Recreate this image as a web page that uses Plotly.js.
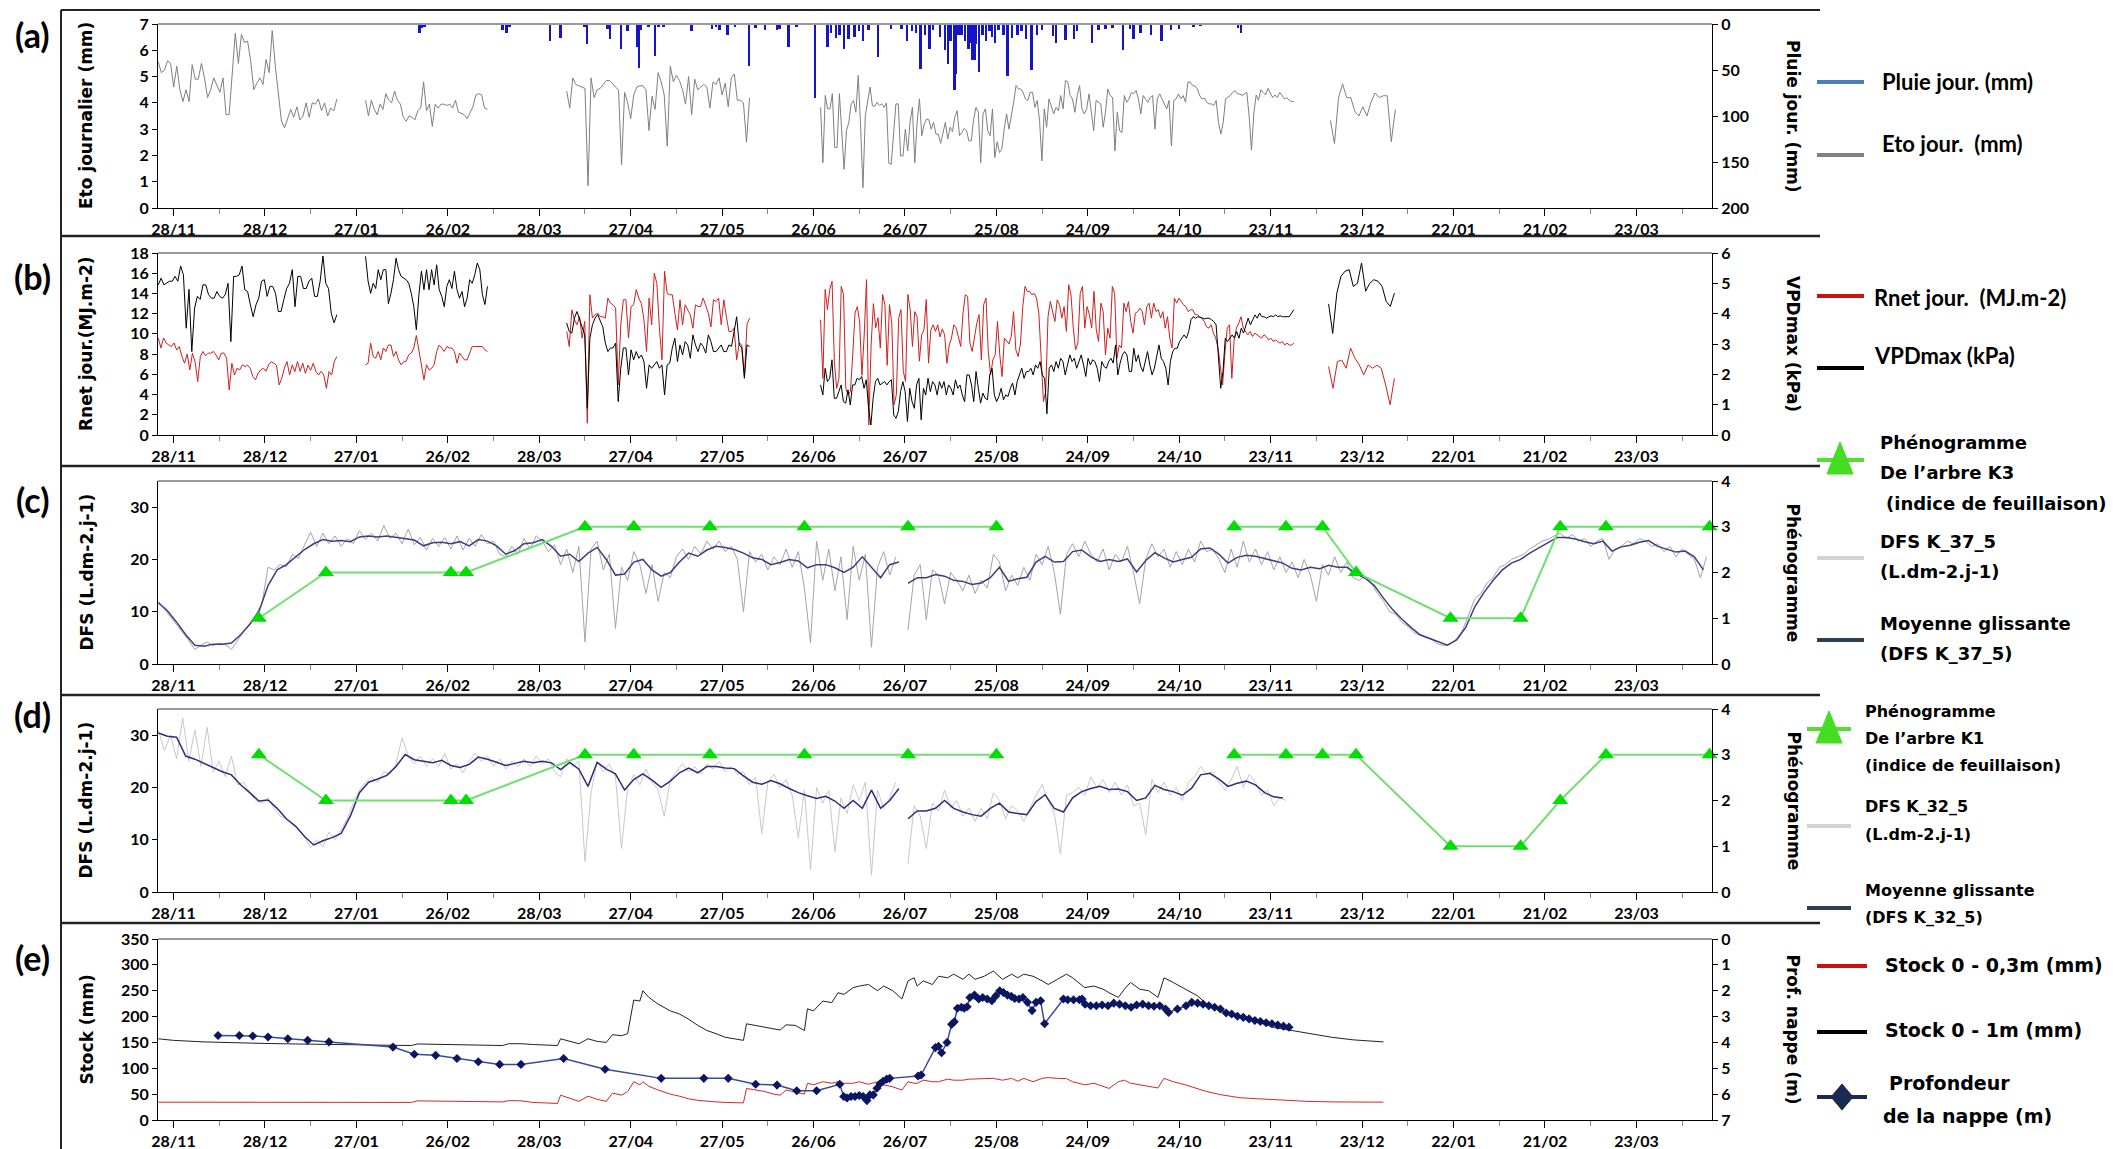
<!DOCTYPE html>
<html lang="fr">
<head>
<meta charset="utf-8">
<title>Bilan hydrique</title>
<script src="https://cdn.plot.ly/plotly-3.0.1.min.js"></script>
<style>
html,body{margin:0;padding:0;background:#fff;overflow:hidden;}
#chart{width:2113px;height:1149px;}
</style>
</head>
<body>
<div id="chart"></div>
<script>
// ================= DATA =================
// day offsets counted from 28/11 (first tick)
const xTickDays = [0,30,60,90,120,150,180,210,240,270,300,330,360,390,420,450,480];
const xTickLabels = ['28/11','28/12','27/01','26/02','28/03','27/04','27/05','26/06','26/07','25/08','24/09','24/10','23/11','23/12','22/01','21/02','23/03'];
const xMinorDays = [15,45,75,105,135,165,195,225,255,285,315,345,375,405,435,465,495];

// (a) Eto journalier (mm) - segments
const etoSeg1 = [5.55,5.15,5.25,5.6,5.5,4.6,5.4,4.5,4.05,4.5,4.05,5.45,4.9,4.9,5.5,4.95,4.2,4.5,4.95,4.65,4.4,4.95,3.55,3.55,5.2,6.65,5.5,6.6,6.3,6.35,5.6,4.5,4.75,4.95,4.7,5.65,5.15,6.75,5.4,4.3,3.3,3.05,3.4,3.75,3.45,3.85,3.35,3.5,4.0,3.45,4.0,3.95,4.15,3.7,4.0,3.5,3.8,3.7,4.15];
const etoSeg2 = [4.1,3.5,4.1,3.75,3.55,3.95,3.75,4.35,4.1,4.0,4.45,4.1,3.95,3.45,3.3,3.5,3.45,3.35,3.7,3.8,4.8,3.7,3.95,3.1,3.95,3.8,3.95,3.95,3.9,3.95,3.8,4.1,3.65,3.6,3.55,3.4,3.65,3.85,4.3,4.35,4.3,3.8,3.75];
const etoSeg3 = [4.45,3.8,4.95,4.7,4.65,4.6,4.55,0.85,4.95,4.2,4.5,4.55,4.7,4.85,4.85,4.75,4.6,4.5,1.65,4.4,4.0,3.4,4.3,4.6,4.65,4.65,4.5,2.95,4.25,3.75,5.15,4.8,4.3,2.35,5.4,4.8,5.05,4.85,4.5,3.95,5.0,3.55,4.9,4.5,4.6,4.7,4.6,3.8,4.8,4.7,4.95,4.3,4.75,3.85,4.95,5.1,4.1,4.1,4.0,2.5,4.2];
const etoSeg4 = [3.83,1.72,4.28,3.77,3.77,4.35,2.3,2.3,4.35,2.87,1.47,2.94,3.26,3.96,4.09,3.64,5.04,3.13,0.77,3.51,4.09,4.6,3.9,3.87,4.02,3.9,3.96,3.83,4.0,1.7,1.66,2.87,3.96,3.96,1.98,1.98,3.0,2.17,3.26,3.83,1.72,3.26,4.15,2.75,3.19,3.38,3.36,3.0,3.26,2.81,2.81,2.46,2.87,3.26,2.62,3.07,2.91,3.45,3.7,2.75,2.87,3.03,2.94,2.55,2.55,3.38,3.83,3.64,1.72,3.58,3.77,2.94,2.75,3.77,1.92,2.52,2.11,2.24,3.0,3.58,3.0,3.45,4.02,4.66,4.53,4.53,4.4,4.15,4.09,4.4,4.4,3.83,4.09,3.32,1.79,3.77,3.07,4.15,3.9,3.58,3.83,3.7,4.28,3.77,4.85,4.79,4.28,4.15,3.64,4.28,4.66,3.77,3.58,3.77,4.34,3.58,2.94,4.09,4.02,3.96,3.07,3.64,4.53,4.28,4.21,2.17,3.64,2.94,2.87,4.28,4.02,4.15,4.4,4.34,4.47,4.15,3.58,4.28,4.15,4.02,4.21,4.28,3.0,4.15,4.34,4.15,4.02,3.77,4.09,2.36,4.09,4.15,4.34,4.15,4.28,4.02,4.79,4.79,4.66,4.64,4.53,4.28,4.15,4.18,4.02,3.96,3.96,3.9,4.09,3.26,2.81,3.26,4.15,4.21,4.28,4.4,4.47,4.34,4.34,4.28,4.34,4.4,3.5,2.2,3.6,4.3,4.1,4.5,4.4,4.3,4.55,4.35,4.2,4.3,4.2,4.4,4.25,4.15,4.2,4.1,4.05,4.05];
const etoSeg5 = [3.33,2.45,4.2,4.72,4.2,4.2,3.68,3.5,3.85,3.5,4.03,4.38,4.2,4.27,4.27,2.52,3.75];

// (a) Pluie journaliere (mm)
const rainDays = [80.7,81.4,82.4,108,109.2,110.2,123.6,127,134.8,135.7,142.4,143.2,146.9,149,152.1,152.8,153.4,155.8,158,159.1,160.8,170,176.7,177.9,179.2,181.7,184.2,188.9,191,194,198,198.8,201.8,204.4,210.5,214.6,215.8,217.4,218.5,219.9,221.5,223.4,225,226.2,228,231.2,235.4,238.8,240.7,242.3,243.7,245.1,246.5,248.1,249.2,251.5,253.2,254.1,255,256.2,256.8,257.5,258.5,259.6,260.8,261.5,262.2,262.9,263.3,264.2,265.4,266.5,267.7,268.6,269.5,270.7,272.3,273.7,275.1,276.9,278.3,279.7,281.5,283.4,285,288.5,289.6,292.6,295.4,296.5,301.4,303.5,305.8,308.1,311.5,313.8,315,317.3,320.8,324.2,327.2,330,334.6,336.9,349.2,350.3];
const rainMm = [10,4,3,7,10,3,19,15,3,22,5,16,27,8,25,48,6,3,35,3,3,8,5,3,6,12,3,46,4,7,7,5,25,3,80,25,10,15,12,27,16,14,8,19,6,36,5,5,19,8,10,49,12,27,6,14,28,44,18,72,54,12,12,19,27,21,39,39,22,52,12,19,8,14,21,6,12,56,15,12,8,16,50,12,6,13,21,17,16,8,21,6,5,4,28,5,16,10,12,19,6,5,3,2,4,10];

// (b) Rnet journalier (MJ.m-2)
const rnetSeg1 = [9.58,8.6,9.6,9.1,8.9,8.75,9.1,8.4,8.75,7.76,7.1,8.0,6.44,8.1,7.26,5.28,7.76,8.26,7.83,8.1,8.1,8.26,7.9,7.43,8.1,8.1,7.6,4.46,7.1,5.94,6.6,6.44,6.94,6.77,6.9,6.6,5.78,5.45,6.1,6.44,6.6,6.3,6.94,7.26,7.1,6.9,4.95,5.61,6.6,7.26,5.94,6.94,6.27,7.26,6.3,7.1,6.1,6.9,6.4,7.1,6.3,5.94,6.3,5.94,4.62,6.27,5.94,7.26,7.76];
const rnetSeg2 = [6.94,7.1,9.1,7.76,7.6,8.26,7.43,8.6,8.26,8.9,8.9,7.76,8.26,7.43,6.94,7.26,7.3,7.93,8.1,8.6,9.84,8.26,6.94,5.45,6.94,6.44,6.6,6.94,8.26,8.9,8.6,8.26,8.75,8.6,8.6,8.26,7.1,8.1,7.76,7.43,7.43,8.1,8.75,8.75,8.75,8.75,8.75,8.42,8.26];
const rnetSeg3 = [10.24,8.75,12.38,11.4,10.9,11.7,9.58,11.23,1.16,13.87,11.56,11.9,12.05,11.7,11.7,11.56,13.54,13.04,12.88,12.55,4.95,10.9,13.37,13.37,9.58,12.7,12.88,14.37,13.54,13.0,11.4,8.26,13.54,10.9,16.0,15.0,10.57,7.43,16.2,14.0,13.87,13.87,12.05,10.4,13.37,10.9,12.88,12.38,11.9,10.57,12.88,12.7,12.7,13.54,12.7,12.05,10.7,13.37,13.2,13.54,10.9,13.37,11.7,10.24,10.24,10.57,7.43,9.1,8.9,5.78,10.9,11.56];
const rnetSeg4 = [11.4,5.6,14.4,12.4,14.4,15.2,7.3,4.6,5.6,14.7,13.9,4.6,3.96,4.3,7.9,12.06,12.7,11.2,5.9,9.9,15.36,1.0,8.9,13.0,10.6,11.6,8.6,13.9,12.9,6.9,12.9,11.06,3.0,4.0,11.56,12.4,6.3,5.3,13.9,12.4,8.75,12.2,11.7,7.3,9.9,10.4,13.4,7.1,10.4,10.9,10.24,10.9,9.7,10.5,9.9,7.1,8.9,9.6,10.9,10.6,9.7,8.75,12.05,13.87,13.7,9.1,8.26,9.6,11.06,11.9,7.43,12.9,13.54,8.26,5.94,7.43,7.93,11.23,7.93,5.78,9.58,9.3,9.0,9.74,12.2,8.42,7.76,9.0,12.7,14.7,14.2,14.2,13.87,14.0,13.54,12.05,7.93,3.3,4.3,11.7,13.2,12.2,11.23,13.37,12.9,11.56,12.7,10.24,14.86,13.87,10.57,8.42,9.1,14.0,14.7,10.57,12.7,11.9,10.57,14.2,10.4,9.25,13.04,12.2,7.93,10.57,9.58,14.7,14.0,7.6,8.9,8.6,13.04,12.2,13.2,11.23,10.07,12.05,12.2,12.55,12.2,10.9,12.7,13.04,11.56,13.04,12.2,12.4,11.56,12.2,10.57,11.7,9.58,8.6,13.54,13.04,13.54,13.2,12.88,12.7,12.2,12.38,12.38,11.9,11.9,11.7,11.56,11.23,10.7,10.57,10.9,10.07,9.58,8.6,6.6,4.95,8.1,10.57,10.9,5.6,9.4,10.57,11.06,11.7,10.57,10.24,9.9,10.24,9.74,10.07,9.9,9.74,9.58,9.9,9.74,9.4,9.58,9.25,9.4,9.25,9.08,9.25,8.9,9.08,8.9,8.9,9.08];
const rnetSeg5 = [6.77,4.62,7.26,7.4,6.6,8.6,7.6,6.93,5.94,6.93,6.6,6.9,6.6,4.95,3.0,5.6];

// (b) VPDmax (kPa)
const vpdSeg1 = [4.95,5.17,4.95,5.0,5.07,5.07,5.23,5.07,5.57,5.28,3.52,4.8,2.75,4.18,4.57,4.47,4.95,4.95,4.63,4.51,4.51,4.73,4.57,4.51,4.63,5.0,3.08,5.23,5.23,5.28,5.57,4.79,4.73,4.29,3.9,4.29,4.51,5.07,5.12,4.57,4.9,4.9,4.67,4.07,4.07,4.47,4.83,5.0,5.45,4.23,5.23,5.23,4.83,4.83,5.07,5.17,4.57,4.57,5.07,5.9,5.0,4.83,4.0,3.7,3.97];
const vpdSeg2 = [5.89,5.07,4.67,5.0,4.83,5.45,5.12,5.45,5.45,4.33,4.67,5.12,5.83,5.45,5.23,5.17,5.12,5.0,4.67,4.23,3.47,4.62,5.4,4.79,5.45,4.79,5.45,4.95,5.61,4.79,4.57,4.23,4.9,5.12,4.83,5.4,4.79,4.51,4.73,4.23,4.51,5.12,5.0,5.28,5.67,5.45,4.63,4.3,4.9];
const vpdSeg3 = [3.69,3.41,3.36,3.85,4.07,3.8,3.52,3.3,0.88,3.19,3.63,3.85,3.97,3.74,3.57,3.03,2.75,2.87,2.87,3.03,1.1,2.2,2.87,2.87,1.98,2.81,2.48,2.75,2.53,2.64,2.42,1.54,2.31,2.2,2.31,2.42,2.2,2.31,1.32,2.31,2.37,2.87,3.19,2.42,2.97,2.64,3.08,2.97,2.53,3.3,2.97,2.75,3.03,2.92,2.7,3.3,3.08,2.75,2.75,2.87,2.97,2.75,2.75,2.97,2.92,3.41,3.9,2.97,2.87,1.87,2.97,2.92];
const vpdSeg4 = [1.65,1.32,2.2,1.76,1.87,2.48,1.21,1.21,1.43,1.65,1.1,1.05,1.49,0.99,1.65,1.65,1.87,1.82,1.93,1.54,1.82,0.88,0.33,1.21,1.76,1.87,1.65,1.71,1.76,1.65,1.76,1.82,0.66,0.55,0.77,1.43,1.76,1.43,0.44,1.54,1.1,0.88,1.65,1.87,0.5,1.54,1.32,1.87,1.43,1.76,1.65,1.32,1.76,1.54,1.76,1.32,1.65,1.54,1.32,1.82,1.54,1.65,1.32,1.1,1.98,1.98,1.65,1.1,2.09,1.54,1.05,1.38,1.21,1.16,1.98,2.2,1.32,1.1,1.27,1.54,1.16,1.32,1.27,1.54,1.71,1.32,1.76,1.98,2.2,1.87,2.09,2.09,2.2,1.98,2.31,2.2,2.42,1.98,1.87,0.7,2.2,2.31,2.09,2.42,2.2,2.53,2.42,1.98,2.31,2.64,2.42,2.53,2.2,2.42,2.64,2.31,1.93,2.53,2.31,2.48,2.42,2.2,1.76,2.42,2.26,2.2,2.42,2.53,2.37,2.97,1.98,2.37,2.64,2.75,2.64,2.09,2.09,2.86,2.42,2.64,2.26,2.09,2.48,2.75,2.31,1.98,2.2,2.64,2.97,2.53,2.42,2.2,1.65,2.42,2.75,2.86,2.86,3.08,3.19,3.3,3.19,3.41,3.8,3.9,3.85,3.9,3.88,3.85,3.83,3.85,3.85,3.8,3.74,3.63,2.64,1.54,2.09,3.19,3.08,3.19,3.3,3.19,3.41,3.19,3.52,3.36,3.63,3.85,3.63,3.8,3.96,3.85,4.02,3.9,3.9,3.85,3.9,3.93,3.9,3.96,3.9,3.93,3.9,3.9,3.92,3.9,4.02,4.13];
const vpdSeg5 = [4.32,3.35,4.68,5.23,5.4,5.45,4.9,5.0,5.67,4.74,5.0,5.12,5.07,4.9,4.4,4.24,4.68];

// (c) DFS K_37_5 (L.dm-2.j-1): raw (every 2 days) and moving average (every 3 days)
const dfs37RawA = [12.0,10.5,9.0,7.5,6.2,4.5,2.8,3.6,4.2,3.5,4.0,3.7,2.8,4.4,6.2,7.5,9.5,11.5,18.5,18.0,19.0,18.6,21.0,20.2,22.8,25.2,22.5,25.0,23.0,24.5,22.5,24.0,23.0,25.5,23.8,25.0,23.5,26.5,24.0,25.0,23.0,25.8,22.8,24.2,21.8,24.0,22.5,24.2,22.0,24.5,21.8,24.0,22.5,24.8,23.0,23.5,21.0,20.5,22.5,21.0,24.0,22.0,24.5,23.5,21.5,22.8,19.0,22.0,17.5,22.5,4.2,22.0,23.5,18.0,21.0,6.8,18.5,16.0,21.5,19.0,13.5,19.0,12.0,17.5,16.5,20.5,22.0,20.0,22.5,21.0,23.5,22.0,23.5,21.5,22.5,20.0,10.0,21.5,19.5,21.0,18.0,20.5,19.0,22.0,18.5,21.5,14.5,4.0,23.5,16.0,22.0,14.0,20.5,8.5,22.5,16.0,21.0,3.2,18.5,21.5,17.0,20.5];
const dfs37RawB = [6.5,17.0,19.0,8.5,18.0,17.0,11.5,17.5,16.0,14.0,17.0,13.5,16.0,14.5,21.0,19.5,14.0,17.0,15.0,18.5,16.0,21.0,19.0,22.5,17.5,9.5,21.0,23.0,20.5,23.5,21.0,19.5,22.0,18.0,21.0,19.5,22.5,17.5,11.5,20.0,23.0,20.5,22.0,18.5,21.5,19.0,22.0,19.5,23.5,21.5,22.0,20.0,17.5,22.0,18.5,23.5,19.5,22.0,19.0,21.5,18.0,20.5,17.5,19.5,16.5,20.0,17.0,12.0,19.0,17.0,20.5,17.5,19.5,16.5,16.0,16.8,15.5,13.5,12.0,10.0,9.5,8.0,7.2,6.0,5.5,5.0,4.6,3.8,3.5,3.9,4.8,6.5,9.5,12.5,13.5,15.5,16.5,18.5,19.0,20.0,20.5,21.0,22.0,22.8,23.5,23.8,24.5,25.0,24.0,24.8,23.5,24.0,22.5,23.5,24.0,20.0,22.0,22.5,23.5,23.0,24.0,23.5,22.5,23.0,21.5,22.5,20.5,22.0,21.0,20.0,16.5,20.5];
const dfs37MaA = [11.7,10.2,8.0,5.6,3.6,3.4,3.8,3.8,4.0,5.6,7.6,10.0,15.0,18.0,19.0,20.5,21.9,23.0,23.8,23.5,23.6,23.4,24.3,24.5,24.3,24.5,24.2,23.9,23.7,22.6,23.2,23.3,23.0,23.4,22.6,23.8,23.5,22.6,21.0,21.7,23.0,23.2,23.8,22.5,20.6,21.0,19.6,21.2,22.3,20.0,17.0,17.2,19.5,20.0,18.0,16.8,17.5,19.5,21.2,20.6,21.8,22.5,22.3,21.9,21.2,20.3,20.0,19.0,19.4,20.0,19.7,18.4,19.0,19.0,18.4,17.5,18.5,20.5,18.5,16.5,19.0,19.5];
const dfs37MaB = [15.4,16.5,16.5,17.1,16.8,16.0,15.8,15.2,15.5,16.5,18.5,15.8,16.3,16.6,19.5,20.6,19.5,19.6,21.5,21.8,20.5,19.6,20.0,19.6,20.1,17.6,19.8,21.3,20.3,19.5,20.0,20.4,22.0,22.2,21.0,19.3,20.4,20.8,20.6,20.2,19.8,19.3,18.3,18.0,18.5,18.2,18.9,18.5,18.5,17.3,16.4,15.0,12.6,10.4,8.6,7.0,5.6,4.9,4.3,3.6,4.6,7.0,11.0,13.7,16.0,18.0,19.3,20.0,21.2,22.2,23.3,24.2,24.2,23.9,23.4,23.0,23.5,21.6,22.4,22.7,23.3,23.6,22.5,22.0,21.4,21.6,20.5,18.0];

// (d) DFS K_32_5
const dfs32RawA = [31.0,27.0,30.0,25.5,33.3,25.0,31.0,24.0,31.5,23.0,25.0,22.0,26.0,20.5,21.0,19.0,17.5,17.0,18.0,16.0,14.5,14.0,13.0,12.0,10.5,8.5,10.0,8.6,11.5,10.0,12.0,14.0,17.0,19.5,21.0,22.0,21.0,23.0,22.5,24.5,29.5,26.0,24.5,26.0,24.0,25.5,24.0,26.5,23.5,24.5,22.8,25.0,26.5,25.0,26.0,24.0,25.5,23.5,25.0,24.0,25.5,24.0,26.0,24.5,25.5,23.0,22.0,25.5,24.0,25.0,5.8,19.0,25.0,23.0,24.5,22.0,8.3,20.0,22.5,20.5,23.5,21.0,19.5,14.5,21.5,23.0,24.5,23.0,24.0,22.5,24.5,23.5,25.0,23.0,24.0,22.5,23.0,20.5,22.0,11.2,21.0,22.5,20.0,21.5,18.5,10.3,19.5,4.2,20.0,17.0,19.5,7.7,18.0,15.0,20.5,17.5,21.0,3.2,19.5,16.0,18.0,21.0];
const dfs32RawB = [5.4,16.5,14.5,8.3,17.0,15.5,19.5,16.0,17.5,14.5,16.0,13.5,16.0,14.0,19.0,17.5,14.0,16.5,15.5,13.5,16.0,18.5,20.5,17.5,15.0,7.3,18.5,19.0,20.0,18.5,22.0,20.0,21.5,19.0,21.0,18.5,20.5,16.5,17.0,10.9,21.5,19.0,21.0,18.5,20.0,17.5,21.0,22.0,24.0,22.5,23.0,21.0,19.5,21.5,24.0,20.0,22.5,21.0,18.5,19.5,16.5,18.0,17.5];
const dfs32MaA = [30.4,29.8,29.6,26.0,25.4,24.6,23.8,23.0,22.4,20.5,19.0,17.4,17.6,16.0,14.0,12.6,10.6,9.0,9.8,10.4,11.2,14.5,19.0,21.0,21.6,22.3,24.0,26.3,25.3,25.0,24.7,25.2,24.2,23.8,24.4,25.8,25.4,24.8,24.2,24.6,25.0,24.7,25.0,24.7,23.4,24.8,23.5,20.2,24.8,23.5,22.6,19.5,21.5,22.6,21.4,20.0,21.2,22.8,23.7,22.8,24.0,24.0,23.7,23.6,22.2,21.0,20.6,21.3,20.7,19.8,19.0,18.4,17.9,18.3,17.4,16.0,17.5,16.0,19.5,16.0,17.5,19.8];
const dfs32MaB = [14.0,15.5,15.5,16.0,17.5,16.0,15.3,14.8,14.5,16.0,17.0,15.3,15.0,14.8,17.3,18.6,16.0,15.3,18.0,19.2,19.8,20.2,19.6,19.7,19.2,17.5,18.0,20.4,19.6,19.2,18.5,19.8,22.4,22.7,21.6,20.2,20.8,21.2,20.5,19.0,18.2,18.0];

// (c)/(d) Phenogramme (indice de feuillaison)
const phenoDays = [28,50,91,96,135,151,176,207,241,270,300,348,365,377,388,419,442,455,470,504];
const phenoK3 = [1,2,2,2,3,3,3,3,3,3,null,3,3,3,2,1,1,3,3,3];
const phenoK1 = [3,2,2,2,3,3,3,3,3,3,null,3,3,3,3,1,1,2,3,3];

// (e) Stocks (mm) and water table depth (m)
const stockDays = [-5,0,10,20,30,40,50,60,70,78,80,90,100,108,110,114,118,124,126,127,130,133,136,139,142,144,147,149,151,153,154,156,159,163,166,169,172,175,178,181,184,187,188,191,194,197,199,201,204,207,208,210,213,216,218,220,223,225,228,231,233,236,239,241,243,244,246,249,251,254,256,259,261,263,266,269,272,275,277,279,282,285,287,290,293,295,299,302,305,307,310,312,314,317,320,323,325,328,332,336,339,344,350,356,361,367,372,380,387,397];
const stock1m = [157,154,151,149,148,147,146,145,144,144,147,146,145,144,147.5,147.5,146,144,144,157,152,147.5,157,152,150,165,163,167,232,230,250,237,224,211,205,195,183,173,167,160,157,154,186,183,179,176,174,184,183,173,215,211,230,227,246,243,256,259,262,250,259,250,234,269,275,259,269,262,278,275,282,272,282,272,278,288,272,282,275,282,278,269,262,272,282,275,256,259,253,246,237,253,266,253,250,237,275,266,253,240,224,211,199,189,179,173,167,160,155,151];
const stock03 = [34.5,34.5,34.5,34,34,34,34,34,34,34,37,36,35.5,35,37.5,37,34,32,32,48,42,36,46,40,36,52,48,55,74,68,74,65,58,50,46,41,38,36,35,34,33,33,61,58,55,50,48,58,54,50,71,68,74,71,74,71,71,74,69,74,68,64,58,74,71,71,77,74,74,79,77,77,79,79,80,80.5,77,80.5,75,80.5,74,80.5,82,80.5,80,74,68,71,64.5,61,74,77,71,68,64.5,62,80.5,74,68,61,55,48.5,43,41,39,37,36,35,34.5,34.5];
const nappeDays = [14.6,21.6,26,31,37.5,44,51,72,79,86,93,100,107,114,128,141.6,160,174,182,191,198,204.5,211,218.6,219.9,221,222.3,223.6,225,226.3,227.5,228.5,229.6,230.8,231.8,232.8,234,235,244.3,245.3,250,251,252,253.8,255.3,256.2,257.2,258.5,259.4,260.4,261.3,262.8,264.2,265.5,267,268.5,269.8,271.1,272.3,273.6,274.9,276,277.4,278.7,280.2,281.7,283,284.5,285.8,292,293.4,295.3,297.2,298.1,299.1,300.9,302.8,304.7,306.6,308.5,310.4,312.3,314.2,316,318,319.9,321.7,323.6,325.5,326.5,329.4,332.2,334.1,336,337.8,339.7,341.6,343.5,345.4,347.2,349.1,351,352.9,354.8,356.6,358.5,360.4,362.3,364.2,366];
const nappeDepth = [3.73,3.73,3.75,3.79,3.86,3.92,3.98,4.18,4.46,4.5,4.62,4.75,4.85,4.85,4.62,5.04,5.39,5.39,5.39,5.62,5.65,5.87,5.87,5.62,6.09,6.15,6.09,6.09,6.05,6.09,6.25,6.03,6.03,5.77,5.6,5.5,5.42,5.39,5.3,5.26,4.2,4.15,4.4,4.0,3.3,3.2,2.68,2.64,2.68,2.62,2.26,2.17,2.32,2.26,2.32,2.39,2.2,2.0,2.07,2.17,2.22,2.3,2.32,2.26,2.45,2.77,2.45,2.39,3.28,2.32,2.35,2.35,2.35,2.32,2.52,2.58,2.58,2.55,2.58,2.48,2.52,2.58,2.64,2.55,2.52,2.58,2.6,2.58,2.71,2.84,2.71,2.58,2.45,2.48,2.52,2.58,2.64,2.71,2.86,2.9,2.99,3.03,3.09,3.15,3.19,3.24,3.28,3.33,3.37,3.41];

// ================= BUILD =================
const DAY = 86400000, T0 = Date.UTC(2008, 10, 28);
function dt(d){ return new Date(T0 + Math.round(d*DAY)).toISOString().slice(0,19).replace('T',' '); }
function joinSegs(segs){
  const x=[], y=[];
  segs.forEach((s,k)=>{
    const d0=s[0], d1=s[1], v=s[2];
    if(k>0){ x.push(dt(d0-0.5)); y.push(null); }
    v.forEach((val,i)=>{ x.push(dt(d0+(d1-d0)*i/(v.length-1))); y.push(val); });
  });
  return {x, y};
}
const W=2113, H=1149;
const px = v => v/W, py = v => 1 - v/H;
const XD = [px(158), px(1712)];
const xRange = [dt(-5.1), dt(504.8)];
const panels = [[24,208],[253,435],[481,664],[709,892],[939,1120]];

const TICKF = {family:'Lato, "DejaVu Sans Condensed", sans-serif', size:16, color:'#000', weight:700};
function xAx(anchor){
  return {type:'date', domain:XD, anchor:anchor, range:xRange, tickmode:'array',
    tickvals:xTickDays.map(dt), ticktext:xTickLabels, ticks:'outside', ticklen:7, tickwidth:1,
    tickcolor:'#000', showline:true, linecolor:'#000', linewidth:1, showgrid:false, zeroline:false,
    tickfont:TICKF, fixedrange:true,
    minor:{tickmode:'array', tickvals:xMinorDays.map(dt), ticks:'outside', ticklen:5, tickcolor:'#888', showgrid:false}};
}
function yL(i, range, dtick, anchor){
  return {domain:[py(panels[i][1]), py(panels[i][0])], anchor:anchor, range:range, tickmode:'linear',
    tick0:0, dtick:dtick, ticks:'outside', ticklen:5, tickcolor:'#000', showline:true, linecolor:'#000',
    linewidth:1, showgrid:false, zeroline:false, tickfont:TICKF, fixedrange:true};
}
function yR(over, anchor, range, dtick){
  return {overlaying:over, side:'right', anchor:anchor, range:range, tickmode:'linear', tick0:0,
    dtick:dtick, ticks:'outside', ticklen:5, tickcolor:'#000', showline:true, linecolor:'#000',
    linewidth:1, showgrid:false, zeroline:false, tickfont:TICKF, fixedrange:true};
}

const eto = joinSegs([[-5,53.6,etoSeg1],[63,103,etoSeg2],[129,189,etoSeg3],[212.3,367.6,etoSeg4],[379.6,400.9,etoSeg5]]);
const rnet = joinSegs([[-5,53.6,rnetSeg1],[63,103,rnetSeg2],[129,189,rnetSeg3],[212.3,367.6,rnetSeg4],[379,400.6,rnetSeg5]]);
const vpd = joinSegs([[-5,53.6,vpdSeg1],[63,103,vpdSeg2],[129,189,vpdSeg3],[212.3,367.6,vpdSeg4],[379,400.6,vpdSeg5]]);
const r37 = joinSegs([[-5,237,dfs37RawA],[241,503,dfs37RawB]]);
const m37 = joinSegs([[-5,238,dfs37MaA],[241,502,dfs37MaB]]);
const r32 = joinSegs([[-5,237,dfs32RawA],[241,365,dfs32RawB]]);
const m32 = joinSegs([[-5,238,dfs32MaA],[241,364,dfs32MaB]]);

const traces = [
  {type:'bar', x:rainDays.map(dt), y:rainMm, xaxis:'x', yaxis:'y2', width:0.8*DAY, marker:{color:'#1414c8', line:{width:0}}, name:'Pluie jour. (mm)', showlegend:false},
  {type:'scatter', mode:'lines', x:eto.x, y:eto.y, xaxis:'x', yaxis:'y', line:{color:'#7f7f7f', width:1}, name:'Eto jour. (mm)', showlegend:false},
  {type:'scatter', mode:'lines', x:rnet.x, y:rnet.y, xaxis:'x2', yaxis:'y3', line:{color:'#d01f1f', width:1}, name:'Rnet jour. (MJ.m-2)', showlegend:false},
  {type:'scatter', mode:'lines', x:vpd.x, y:vpd.y, xaxis:'x2', yaxis:'y4', line:{color:'#000', width:1}, name:'VPDmax (kPa)', showlegend:false},
  {type:'scatter', mode:'lines', x:r37.x, y:r37.y, xaxis:'x3', yaxis:'y5', line:{color:'#a3a3ab', width:1}, name:'DFS K_37_5', showlegend:false},
  {type:'scatter', mode:'lines', x:m37.x, y:m37.y, xaxis:'x3', yaxis:'y5', line:{color:'#3d3d80', width:1.5}, name:'Moyenne glissante (DFS K_37_5)', showlegend:false},
  {type:'scatter', mode:'lines+markers', x:phenoDays.map(dt), y:phenoK3, xaxis:'x3', yaxis:'y6', line:{color:'#6fe06f', width:2}, marker:{symbol:'triangle-up', size:14, color:'#00dd00'}, name:'Phénogramme K3', showlegend:false, cliponaxis:false},
  {type:'scatter', mode:'lines', x:r32.x, y:r32.y, xaxis:'x4', yaxis:'y7', line:{color:'#c8c8cc', width:1}, name:'DFS K_32_5', showlegend:false},
  {type:'scatter', mode:'lines', x:m32.x, y:m32.y, xaxis:'x4', yaxis:'y7', line:{color:'#2e2e78', width:1.5}, name:'Moyenne glissante (DFS K_32_5)', showlegend:false},
  {type:'scatter', mode:'lines+markers', x:phenoDays.map(dt), y:phenoK1, xaxis:'x4', yaxis:'y8', line:{color:'#6fe06f', width:2}, marker:{symbol:'triangle-up', size:14, color:'#00dd00'}, name:'Phénogramme K1', showlegend:false, cliponaxis:false},
  {type:'scatter', mode:'lines', x:stockDays.map(dt), y:stock03, xaxis:'x5', yaxis:'y9', line:{color:'#d02828', width:1}, name:'Stock 0 - 0,3m (mm)', showlegend:false},
  {type:'scatter', mode:'lines', x:stockDays.map(dt), y:stock1m, xaxis:'x5', yaxis:'y9', line:{color:'#222', width:1}, name:'Stock 0 - 1m (mm)', showlegend:false},
  {type:'scatter', mode:'lines+markers', x:nappeDays.map(dt), y:nappeDepth, xaxis:'x5', yaxis:'y10', line:{color:'#3a4a9a', width:1.5}, marker:{symbol:'diamond', size:7, color:'#0a1660'}, name:'Profondeur de la nappe (m)', showlegend:false}
];

// ---------- decorations ----------
const shapes = [];
function hline(x0,x1,y,color,w){ shapes.push({type:'line', xref:'paper', yref:'paper', x0:px(x0), x1:px(x1), y0:py(y), y1:py(y), line:{color:color, width:w}}); }
function vline(x,y0,y1,color,w){ shapes.push({type:'line', xref:'paper', yref:'paper', x0:px(x), x1:px(x), y0:py(y0), y1:py(y1), line:{color:color, width:w}}); }
function tri(cx,cy,w,h,color){ shapes.push({type:'path', xref:'paper', yref:'paper', path:'M '+px(cx-w/2)+' '+py(cy+h/2)+' L '+px(cx)+' '+py(cy-h/2)+' L '+px(cx+w/2)+' '+py(cy+h/2)+' Z', fillcolor:color, line:{color:color, width:1}}); }
function diam(cx,cy,w,h,color){ shapes.push({type:'path', xref:'paper', yref:'paper', path:'M '+px(cx-w/2)+' '+py(cy)+' L '+px(cx)+' '+py(cy-h/2)+' L '+px(cx+w/2)+' '+py(cy)+' L '+px(cx)+' '+py(cy+h/2)+' Z', fillcolor:color, line:{color:color, width:1}}); }

// frame
hline(61,1820,10,'#222',2);
[236,466,695,923].forEach(y=>hline(61,1820,y,'#222',2.5));
vline(61,10,1149,'#222',2);
// gray top border of each plot
panels.forEach(p=>hline(158,1712,p[0],'#9a9a9a',2));

// legend samples
hline(1817,1864,82,'#4a7ebb',4);
hline(1817,1864,155,'#808080',4);
hline(1817,1864,296,'#cc1111',4);
hline(1817,1864,368,'#000',4);
hline(1817,1864,460,'#55dd33',4); tri(1840,458,26,32,'#44dd22');
hline(1817,1864,558,'#d3d3d3',4);
hline(1817,1864,640,'#2f3e55',4);
hline(1807,1851,729,'#55dd33',4); tri(1829,727,26,32,'#44dd22');
hline(1807,1851,826,'#d3d3d3',4);
hline(1807,1851,908,'#2f3e55',4);
hline(1817,1867,966,'#cc1111',4);
hline(1817,1867,1032,'#000',4);
hline(1817,1867,1097,'#1a2a50',4); diam(1842,1097,22,26,'#1a2a50');

const annotations = [];
function ann(text,x,y,font,opt){ annotations.push(Object.assign({text:text, xref:'paper', yref:'paper', x:px(x), y:py(y), showarrow:false, font:font, xanchor:'left', yanchor:'middle'}, opt||{})); }

const LETTER = {family:'Lato, "Open Sans", sans-serif', size:34, weight:700, color:'#000'};
const TITLE = {family:'"DejaVu Sans", Verdana, sans-serif', size:17, weight:700, color:'#000'};
const LEG1 = {family:'Lato, "Open Sans", sans-serif', size:22, weight:700, color:'#000'};
const LEG2 = {family:'"DejaVu Sans", Verdana, sans-serif', size:18, weight:700, color:'#000'};
const LEGS = {family:'"DejaVu Sans", Verdana, sans-serif', size:19, weight:700, color:'#000'};
const LEG3 = {family:'"DejaVu Sans", Verdana, sans-serif', size:16, weight:700, color:'#000'};

// panel letters
[['(a)',34],['(b)',276],['(c)',499],['(d)',714],['(e)',957]].forEach(p=>ann(p[0],32,p[1],LETTER,{xanchor:'center'}));

// axis titles
const leftTitles = ['Eto journalier (mm)','Rnet jour.(MJ.m-2)','DFS (L.dm-2.j-1)','DFS (L.dm-2.j-1)','Stock (mm)'];
const rightTitles = ['Pluie jour. (mm)','VPDmax (kPa)','Phénogramme','Phénogramme','Prof. nappe (m)'];
panels.forEach((p,i)=>{
  const cy=(p[0]+p[1])/2;
  ann(leftTitles[i],86,cy,TITLE,{xanchor:'center', textangle:-90});
  ann(rightTitles[i],1793,cy,TITLE,{xanchor:'center', textangle:90});
});

// legend texts
ann('Pluie jour. (mm)',1880,82,LEG1);
ann('Eto jour.  (mm)',1880,144,LEG1);
ann('Rnet jour.  (MJ.m-2)',1872,297,LEG1);
ann('VPDmax (kPa)',1872,356,LEG1);
ann('Phénogramme',1878,443,LEG2);
ann('De l’arbre K3',1878,472,LEG2);
ann('(indice de feuillaison)',1884,503,LEG2);
ann('DFS K_37_5',1878,541,LEG2);
ann('(L.dm-2.j-1)',1878,571,LEG2);
ann('Moyenne glissante',1878,623,LEG2);
ann('(DFS K_37_5)',1878,653,LEG2);
ann('Phénogramme',1863,711,LEG3);
ann('De l’arbre K1',1863,738,LEG3);
ann('(indice de feuillaison)',1863,765,LEG3);
ann('DFS K_32_5',1863,806,LEG3);
ann('(L.dm-2.j-1)',1863,834,LEG3);
ann('Moyenne glissante',1863,890,LEG3);
ann('(DFS K_32_5)',1863,917,LEG3);
ann('Stock 0 - 0,3m (mm)',1883,965,LEGS);
ann('Stock 0 - 1m (mm)',1883,1030,LEGS);
ann('Profondeur',1887,1083,LEGS);
ann('de la nappe (m)',1881,1116,LEGS);

const layout = {
  width:W, height:H, margin:{l:0,r:0,t:0,b:0}, paper_bgcolor:'#fff', plot_bgcolor:'#fff',
  showlegend:false, bargap:0, barmode:'overlay',
  xaxis:xAx('y'), xaxis2:xAx('y3'), xaxis3:xAx('y5'), xaxis4:xAx('y7'), xaxis5:xAx('y9'),
  yaxis:yL(0,[0,7],1,'x'), yaxis2:yR('y','x',[200,0],50),
  yaxis3:yL(1,[0,18],2,'x2'), yaxis4:yR('y3','x2',[0,6],1),
  yaxis5:yL(2,[0,35],10,'x3'), yaxis6:yR('y5','x3',[0,4],1),
  yaxis7:yL(3,[0,35],10,'x4'), yaxis8:yR('y7','x4',[0,4],1),
  yaxis9:yL(4,[0,350],50,'x5'), yaxis10:yR('y9','x5',[7,0],1),
  shapes:shapes, annotations:annotations
};
Plotly.newPlot('chart', traces, layout, {displayModeBar:false, staticPlot:true});
</script>
</body>
</html>
